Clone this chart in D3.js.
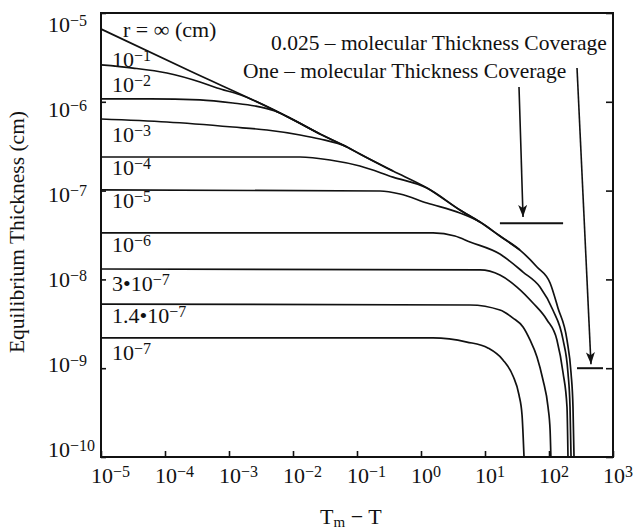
<!DOCTYPE html>
<html>
<head>
<meta charset="utf-8">
<script src="https://cdn.jsdelivr.net/npm/d3@7"></script>
<style>
body { margin: 0; background: #fff; }
text { font-family: "Liberation Serif", "Times New Roman", serif; fill: #111; }
</style>
</head>
<body>
<svg id="chart" width="636" height="531"></svg>
<script>
// tick values and their exponent labels
var xTicks = [1e-5, 1e-4, 1e-3, 1e-2, 1e-1, 1e0, 1e1, 1e2, 1e3];
var xTickExp = ["−5", "−4", "−3", "−2", "−1", "0", "1", "2", "3"];
var yTicks = [1e-5, 1e-6, 1e-7, 1e-8, 1e-9, 1e-10];
var yTickExp = ["−5", "−6", "−7", "−8", "−9", "−10"];

// curves: Tm - T and equilibrium thickness (cm)
// curves that join the r = inf line carry on along it for a couple of points
var rInfT = [1e-5, 2.46e-4, 6.26e-3, 0.0264, 0.0698, 0.111, 0.365, 1.24, 4.06, 8.35, 17.1, 35.2, 64.9, 104, 138, 191, 221, 237, 246];
var rInfH = [6.6e-6, 2.22e-6, 7.48e-7, 4.34e-7, 3.1e-7, 2.58e-7, 1.66e-7, 1.07e-7, 6.05e-8, 4.43e-8, 3.08e-8, 2.14e-8, 1.38e-8, 9.1e-9, 4.77e-9, 2.08e-9, 8.83e-10, 3.66e-10, 1e-10];
var r1T = [1e-5, 3.16e-5, 1.07e-4, 3.52e-4, 6.5e-4, 1.49e-3, 6.26e-3, 0.0264];
var r1H = [2.6e-6, 2.4e-6, 2.11e-6, 1.67e-6, 1.43e-6, 1.2e-6, 7.48e-7, 4.34e-7];
var r2T = [1e-5, 5.83e-5, 3.52e-4, 1.15e-3, 2.55e-3, 5.23e-3, 8.98e-3, 0.0264, 0.0698];
var r2H = [1.08e-6, 1.08e-6, 1.05e-6, 9.7e-7, 8.97e-7, 7.87e-7, 6.58e-7, 4.34e-7, 3.1e-7];
var r3T = [1e-5, 1.07e-4, 1.15e-3, 3.92e-3, 0.0129, 0.0264, 0.0698, 0.111, 0.365];
var r3H = [6.4e-7, 5.92e-7, 5.2e-7, 4.81e-7, 4.23e-7, 3.81e-7, 3.1e-7, 2.58e-7, 1.66e-7];
var r4T = [1e-5, 0.0129, 0.0379, 0.111, 0.365, 1.24, 4.06, 8.35];
var r4H = [2.39e-7, 2.39e-7, 2.21e-7, 1.89e-7, 1.42e-7, 1.07e-7, 6.05e-8, 4.43e-8];
var r5T = [1e-5, 0.229, 0.47, 1.24, 4.06, 8.35, 17.1, 35.2];
var r5H = [1.02e-7, 9.9e-8, 9.16e-8, 7.25e-8, 5.6e-8, 4.43e-8, 3.08e-8, 2.14e-8];
var r6T = [1e-5, 1.54, 3.39, 5.83, 17.1, 39.3, 72.3, 115, 166, 198, 213, 221];
var r6H = [3.35e-8, 3.35e-8, 3.08e-8, 2.64e-8, 1.93e-8, 1.21e-8, 8.2e-9, 4.52e-9, 2.08e-9, 8.83e-10, 3.66e-10, 1e-10];
var r7T = [1e-5, 8.35, 17.1, 31.6, 56.2, 93.1, 133, 166, 191, 198];
var r7H = [1.31e-8, 1.28e-8, 1.12e-8, 8.2e-9, 5.42e-9, 3.49e-9, 2.08e-9, 8.83e-10, 3.66e-10, 1e-10];
var r8T = [1e-5, 5.83, 17.1, 27.4, 39.3, 50.5, 64.9, 80.6, 96.5, 104, 107];
var r8H = [5.28e-9, 5.15e-9, 4.52e-9, 3.67e-9, 2.91e-9, 2.08e-9, 1.34e-9, 7.36e-10, 3.66e-10, 2.01e-10, 1e-10];
var r9T = [1e-5, 1.54, 5.23, 11.1, 19.1, 27.4, 34.0, 37.9, 40.7];
var r9H = [2.19e-9, 2.19e-9, 1.97e-9, 1.69e-9, 1.24e-9, 8.17e-10, 4.99e-10, 2.97e-10, 1e-10];

// curve labels: [main text, superscript]
var curveLabels = [["r = ∞ (cm)", ""], ["10", "−1"], ["10", "−2"], ["10", "−3"], ["10", "−4"],
  ["10", "−5"], ["10", "−6"], ["3•10", "−7"], ["1.4•10", "−7"], ["10", "−7"]];

// coverage levels: thickness (cm) and the span of Tm - T where the mark is drawn
var coverageH = [4.3e-8, 1e-9];
var coverageT0 = [17.1, 274];
var coverageT1 = [166, 698];
var coverageText = ["One – molecular Thickness Coverage", "0.025 – molecular Thickness Coverage"];
// arrows from each text to its mark: [T, h] start and end
var arrowFrom = [[34, 1.47e-6], [274, 2.4e-6]];
var arrowTo = [[39.3, 5.05e-8], [453, 1.11e-9]];

var svg = d3.select("#chart");
var margin = { top: 13, right: 23, bottom: 74, left: 101 };
var width = 636, height = 531;
var x0 = margin.left, x1 = width - margin.right, y0 = margin.top, y1 = height - margin.bottom;

var x = d3.scaleLog().domain([1e-5, 1e3]).range([x0, x1]);
var y = d3.scaleLog().domain([1e-5, 1e-10]).range([y0, y1]);
// tick labels in the figure sit on a slightly tighter spacing than the ticks
var yLab = d3.scaleLog().domain([1e-5, 1e-10]).range([32, 457]);

var curves = [[rInfT, rInfH], [r1T, r1H], [r2T, r2H], [r3T, r3H], [r4T, r4H],
  [r5T, r5H], [r6T, r6H], [r7T, r7H], [r8T, r8H], [r9T, r9H]];
var labelPos = [[123, 37], [112, 67], [112, 92], [112, 142], [112, 175],
  [112, 208], [112, 252], [112, 291], [112, 323], [112, 360]];

svg.append("defs").append("marker")
  .attr("id", "arrow")
  .attr("markerUnits", "userSpaceOnUse")
  .attr("markerWidth", 13).attr("markerHeight", 10)
  .attr("refX", 12).attr("refY", 4.5)
  .attr("orient", "auto")
  .append("path")
  .attr("d", "M0,0 L12,4.5 L0,9 L3,4.5 Z")
  .attr("fill", "#111");

// ticks (inward)
svg.append("g")
  .attr("transform", `translate(0, ${y1})`)
  .call(d3.axisBottom(x).tickValues(xTicks).tickSizeInner(-6).tickSizeOuter(0).tickFormat(""))
  .call(g => g.select(".domain").remove());
svg.append("g")
  .attr("transform", `translate(${x0}, 0)`)
  .call(d3.axisLeft(y).tickValues(yTicks).tickSizeInner(-5).tickSizeOuter(0).tickFormat(""))
  .call(g => g.select(".domain").remove());
svg.append("g")
  .attr("transform", `translate(${x1}, 0)`)
  .call(d3.axisRight(y).tickValues(yTicks).tickSizeInner(-7).tickSizeOuter(0).tickFormat(""))
  .call(g => g.select(".domain").remove());
svg.selectAll(".tick line").attr("stroke", "#111").attr("stroke-width", 1.6);

svg.append("rect")
  .attr("x", x0).attr("y", y0)
  .attr("width", x1 - x0).attr("height", y1 - y0)
  .attr("fill", "none").attr("stroke", "#111").attr("stroke-width", 2);

// tick labels as 10 with superscript
var xl = svg.selectAll(".xlab").data(xTicks).join("text")
  .attr("class", "xlab")
  .attr("x", d => x(d) - 10)
  .attr("y", 483)
  .attr("font-size", 22);
xl.append("tspan").text("10");
xl.append("tspan").attr("dy", -6).attr("font-size", 16).text((d, i) => xTickExp[i]);

var yl = svg.selectAll(".ylab").data(yTicks).join("text")
  .attr("class", "ylab")
  .attr("x", 48)
  .attr("y", d => yLab(d))
  .attr("font-size", 22);
yl.append("tspan").text("10");
yl.append("tspan").attr("dy", -6).attr("font-size", 16).text((d, i) => yTickExp[i]);

// curves
var line = d3.line()
  .x(d => x(d[0]))
  .y(d => y(d[1]))
  .curve(d3.curveMonotoneX);

svg.selectAll(".curve").data(curves).join("path")
  .attr("class", "curve")
  .attr("d", c => line(c[0].map((t, i) => [t, c[1][i]])))
  .attr("fill", "none")
  .attr("stroke", "#111")
  .attr("stroke-width", 1.7);

var cl = svg.selectAll(".clab").data(curveLabels).join("text")
  .attr("class", "clab")
  .attr("x", (d, i) => labelPos[i][0])
  .attr("y", (d, i) => labelPos[i][1])
  .attr("font-size", 22);
cl.append("tspan").text(d => d[0]);
cl.append("tspan").attr("dy", -6).attr("font-size", 16).text(d => d[1]);

// coverage marks and arrows
svg.selectAll(".cov").data(coverageH).join("line")
  .attr("class", "cov")
  .attr("x1", (d, i) => x(coverageT0[i]))
  .attr("x2", (d, i) => x(coverageT1[i]))
  .attr("y1", d => y(d)).attr("y2", d => y(d))
  .attr("stroke", "#111").attr("stroke-width", 2);

svg.selectAll(".arr").data(arrowFrom).join("line")
  .attr("class", "arr")
  .attr("x1", d => x(d[0])).attr("y1", d => y(d[1]))
  .attr("x2", (d, i) => x(arrowTo[i][0])).attr("y2", (d, i) => y(arrowTo[i][1]))
  .attr("stroke", "#111").attr("stroke-width", 1.6)
  .attr("marker-end", "url(#arrow)");

svg.append("text").attr("x", 271).attr("y", 50).attr("font-size", 21.5).text(coverageText[1]);
svg.append("text").attr("x", 243).attr("y", 78).attr("font-size", 21.5).text(coverageText[0]);

// axis titles
svg.append("text")
  .attr("transform", "translate(24, 232) rotate(-90)")
  .attr("text-anchor", "middle")
  .attr("font-size", 21.5)
  .text("Equilibrium Thickness (cm)");

var xt = svg.append("text").attr("x", 320).attr("y", 524).attr("font-size", 22);
xt.append("tspan").text("T");
xt.append("tspan").attr("dy", 3).attr("font-size", 15).text("m");
xt.append("tspan").attr("dy", -3).text(" − T");
</script>
</body>
</html>
